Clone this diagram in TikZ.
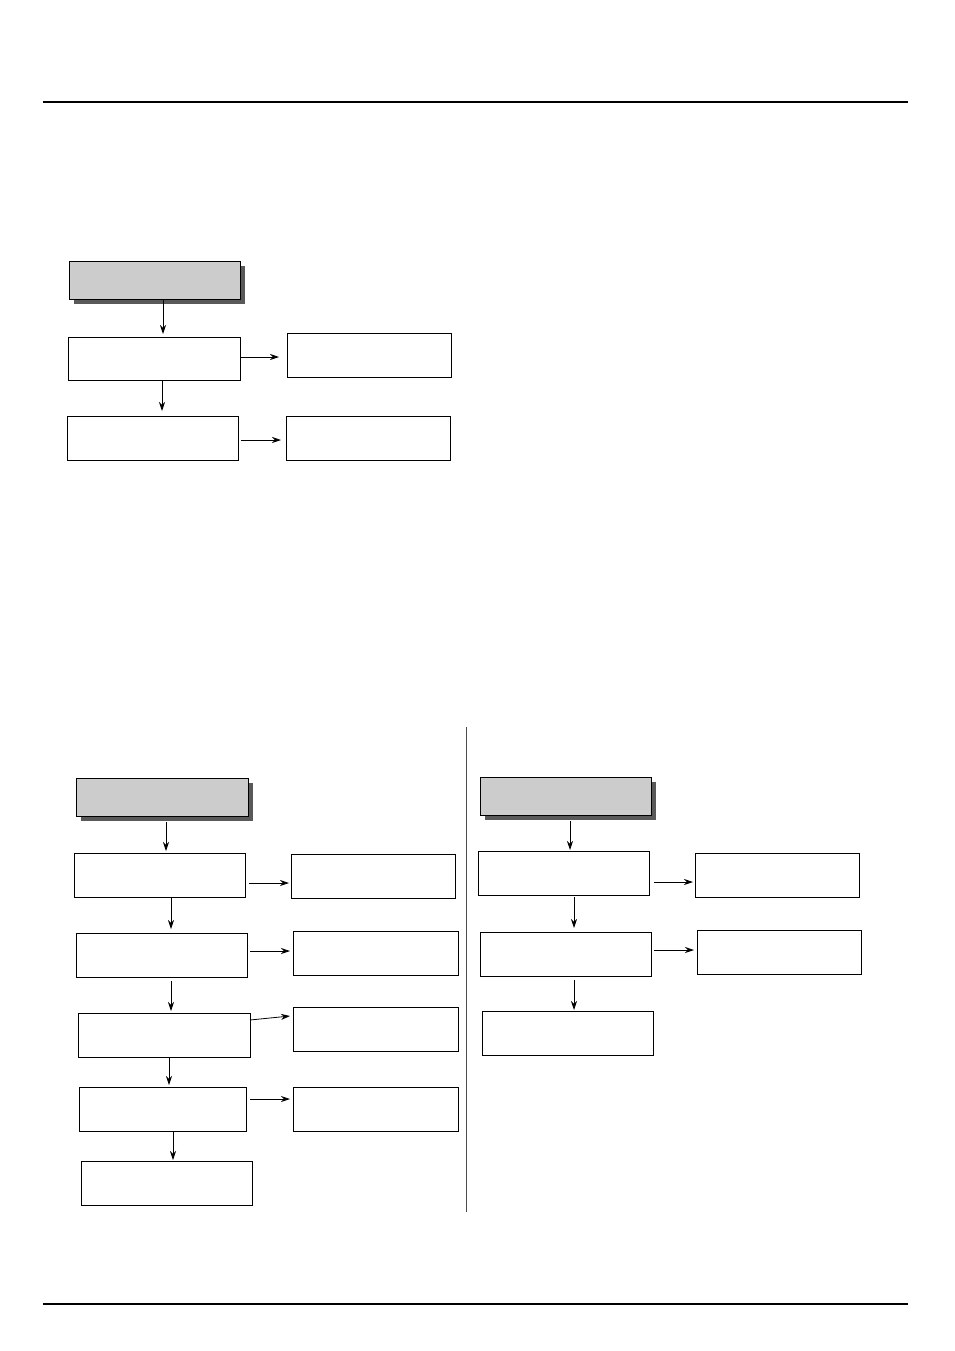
\documentclass[tikz,border=0pt]{standalone}
\usetikzlibrary{arrows.meta}
\begin{document}
\begin{tikzpicture}[x=1pt,y=-1pt,
  box/.style={draw,line width=0.8pt,fill=white,inner sep=0pt,anchor=north west},
  hdr/.style={box,fill=black!20},
  shd/.style={fill=black!60,draw=none},
  arr/.style={line width=0.8pt,-{Stealth[length=9pt,width=6pt]}}]
\useasboundingbox (0,0) rectangle (954,1351);
\newcommand{\bx}[6]{\node[#1,minimum width=#5-#3,minimum height=#6-#4] (#2) at (#3,#4) {};}
\newcommand{\hd}[5]{\fill[black!65] (#2+5,#3+5) rectangle (#4+5,#5+5);\bx{hdr}{#1}{#2}{#3}{#4}{#5}}
\draw[line width=2.5pt] (43,102) -- (908,102);
\draw[line width=2.5pt] (43,1304) -- (908,1304);
\draw[line width=0.6pt,black!70] (466,727) -- (466,1212);
% section 1
\hd{h1}{69}{261}{240}{299}
\bx{box}{a1}{68}{337}{240}{380}
\bx{box}{r1}{287}{333}{451}{377}
\bx{box}{a2}{67}{416}{238}{460}
\bx{box}{r2}{286}{416}{450}{460}
\draw[arr] (163,299) -- (163,334);
\draw[arr] (240,357) -- (279,357);
\draw[arr] (162,380) -- (162,411);
\draw[arr] (241,440) -- (281,440);
% section 2 left
\hd{h2}{76}{778}{248}{816}
\bx{box}{b1}{74}{853}{245}{897}
\bx{box}{s1}{291}{854}{455}{898}
\bx{box}{b2}{76}{933}{247}{977}
\bx{box}{s2}{293}{931}{458}{975}
\bx{box}{b3}{78}{1013}{250}{1057}
\bx{box}{s3}{293}{1007}{458}{1051}
\bx{box}{b4}{79}{1087}{246}{1131}
\bx{box}{s4}{293}{1087}{458}{1131}
\bx{box}{b5}{81}{1161}{252}{1205}
\draw[arr] (166,822) -- (166,851);
\draw[arr] (249,883) -- (289,883);
\draw[arr] (171,898) -- (171,929);
\draw[arr] (250,951) -- (290,951);
\draw[arr] (171,981) -- (171,1011);
\draw[arr] (250,1020) -- (290,1016);
\draw[arr] (169,1057) -- (169,1085);
\draw[arr] (250,1099) -- (290,1099);
\draw[arr] (173,1131) -- (173,1160);
% section 2 right
\hd{h3}{480}{777}{651}{815}
\bx{box}{c1}{478}{851}{649}{895}
\bx{box}{t1}{695}{853}{859}{897}
\bx{box}{c2}{480}{932}{651}{976}
\bx{box}{t2}{697}{930}{861}{974}
\bx{box}{c3}{482}{1011}{653}{1055}
\draw[arr] (570,821) -- (570,850);
\draw[arr] (654,882) -- (693,882);
\draw[arr] (574,897) -- (574,928);
\draw[arr] (654,950) -- (694,950);
\draw[arr] (574,980) -- (574,1010);
\end{tikzpicture}
\end{document}
